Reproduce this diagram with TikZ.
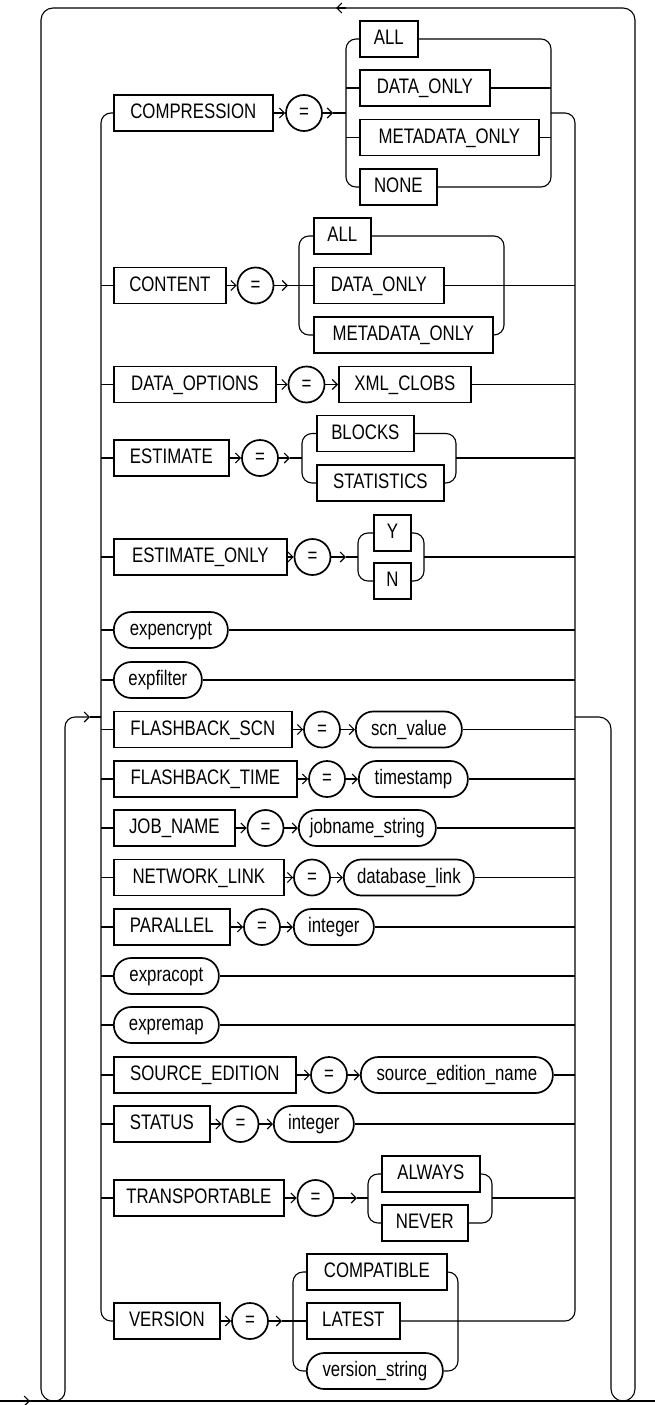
\documentclass[tikz,border=0pt]{standalone}
\usepackage{fontspec}
\newfontfamily\fnt[FakeStretch=0.8]{Liberation Sans}
\usetikzlibrary{arrows.meta,calc}
\tikzset{
  base/.style={font={\fnt\fontsize{21}{24}\selectfont}, inner sep=0pt, minimum height=36pt, text height=15pt, text depth=4pt, line width=1.7pt, anchor=west},
  kw/.style={base, draw},
  var/.style={base, draw, rounded corners=17.5pt},
  eq/.style={base, draw, circle, minimum size=36pt, anchor=center},
  ln/.style={line width=1.1pt},
  rc/.style={ln, rounded corners=10pt},
  arr/.style={ln, -{Straight Barb[length=5pt,width=10pt]}},
  arrc/.style={rc, -{Straight Barb[length=5pt,width=10pt]}},
}
\begin{document}
\begin{tikzpicture}[x=1pt,y=-1pt]
\useasboundingbox (0,0) rectangle (655,1405);
% big junctions
\coordinate (L) at (101,717);
\coordinate (Lin) at (90,717);
\coordinate (R) at (575,717);

% ---- Row 1 COMPRESSION
\node[kw, minimum width=159pt] (k1) at (113,113) {COMPRESSION};
\node[eq] (e1) at (304,113) {=};
\coordinate (a1) at (333,113);
\coordinate (c1l) at (346,113);
\coordinate (c1r) at (551,113);
\node[kw, minimum width=58pt] (o1a) at (359,39) {ALL};
\node[kw, minimum width=130pt] (o1b) at (359,88) {DATA\_ONLY};
\node[kw, minimum width=179pt] (o1c) at (359,137.5) {METADATA\_ONLY};
\node[kw, minimum width=77pt] (o1d) at (359,187) {NONE};
\draw[arr] (k1.east) -- (e1.west);
\draw[arr] (e1.east) -- (a1);
\draw[ln] (a1) -- (c1l);
\draw[rc] (c1l) |- (o1a.west);
\draw[rc] (c1l) |- (o1d.west);
\draw[ln] (c1l |- o1b.west) -- (o1b.west);
\draw[ln] (c1l |- o1c.west) -- (o1c.west);
\draw[rc] (o1a.east) -| (c1r);
\draw[rc] (o1d.east) -| (c1r);
\draw[ln] (o1b.east) -- (c1r |- o1b.east);
\draw[ln] (o1c.east) -- (c1r |- o1c.east);
\draw[rc] (c1r) -| (R);

% ---- Row 2 CONTENT
\node[kw, minimum width=112pt] (k2) at (113,285.5) {CONTENT};
\node[eq] (e2) at (255.5,285.5) {=};
\coordinate (a2) at (288,285.5);
\coordinate (c2l) at (299,285.5);
\coordinate (c2r) at (504,285.5);
\node[kw, minimum width=57pt] (o2a) at (313,236) {ALL};
\node[kw, minimum width=130pt] (o2b) at (313,285.5) {DATA\_ONLY};
\node[kw, minimum width=179pt] (o2c) at (313,335) {METADATA\_ONLY};
\draw[arr] (k2.east) -- (e2.west);
\draw[arr] (e2.east) -- (a2);
\draw[ln] (a2) -- (o2b.west);
\draw[rc] (c2l) |- (o2a.west);
\draw[rc] (c2l) |- (o2c.west);
\draw[rc] (o2a.east) -| (c2r);
\draw[rc] (o2c.east) -| (c2r);
\draw[ln] (o2b.east) -- (R |- o2b.east);

% ---- Row 3 DATA_OPTIONS
\node[kw, minimum width=162pt] (k3) at (113,384.5) {DATA\_OPTIONS};
\node[eq] (e3) at (306.5,384.5) {=};
\node[kw, minimum width=132pt] (o3) at (338,384.5) {XML\_CLOBS};
\draw[arr] (k3.east) -- (e3.west);
\draw[arr] (e3.east) -- (o3.west);
\draw[ln] (o3.east) -- (R |- o3.east);

% ---- Row 4 ESTIMATE
\node[kw, minimum width=115pt] (k4) at (113,458) {ESTIMATE};
\node[eq] (e4) at (260,458) {=};
\coordinate (a4) at (290,458);
\coordinate (c4l) at (302,458);
\coordinate (c4r) at (456,458);
\node[kw, minimum width=97pt] (o4a) at (316,433.5) {BLOCKS};
\node[kw, minimum width=127pt] (o4b) at (316,483) {STATISTICS};
\draw[arr] (k4.east) -- (e4.west);
\draw[arr] (e4.east) -- (a4);
\draw[ln] (a4) -- (c4l);
\draw[rc] (c4l) |- (o4a.west);
\draw[rc] (c4l) |- (o4b.west);
\draw[rc] (o4a.east) -| (c4r);
\draw[rc] (o4b.east) -| (c4r);
\draw[ln] (c4r) -- (R |- c4r);

% ---- Row 5 ESTIMATE_ONLY
\node[kw, minimum width=173pt] (k5) at (113,557) {ESTIMATE\_ONLY};
\node[eq] (e5) at (312.5,557) {=};
\coordinate (a5) at (346,557);
\coordinate (c5l) at (358,557);
\coordinate (c5r) at (424,557);
\node[kw, minimum width=37pt] (o5a) at (373,533) {Y};
\node[kw, minimum width=37pt] (o5b) at (373,581) {N};
\draw[arr] (k5.east) -- (e5.west);
\draw[arr] (e5.east) -- (a5);
\draw[ln] (a5) -- (c5l);
\draw[rc] (c5l) |- (o5a.west);
\draw[rc] (c5l) |- (o5b.west);
\draw[rc] (o5a.east) -| (c5r);
\draw[rc] (o5b.east) -| (c5r);
\draw[ln] (c5r) -- (R |- c5r);

% ---- Row 6, 7
\node[var, minimum width=114pt] (v6) at (113,630) {expencrypt};
\draw[ln] (v6.east) -- (R |- v6.east);
\node[var, minimum width=88pt] (v7) at (113,680) {expfilter};
\draw[ln] (v7.east) -- (R |- v7.east);

% ---- Row 8 FLASHBACK_SCN
\node[kw, minimum width=178pt] (k8) at (113,729.5) {FLASHBACK\_SCN};
\node[eq] (e8) at (322,729.5) {=};
\node[var, minimum width=106pt] (v8) at (355,729.5) {scn\_value};
\draw[arr] (k8.east) -- (e8.west);
\draw[arr] (e8.east) -- (v8.west);
\draw[ln] (v8.east) -- (R |- v8.east);

% ---- Row 9 FLASHBACK_TIME
\node[kw, minimum width=183pt] (k9) at (113,779) {FLASHBACK\_TIME};
\node[eq] (e9) at (327,779) {=};
\node[var, minimum width=109pt] (v9) at (358,779) {timestamp};
\draw[arr] (k9.east) -- (e9.west);
\draw[arr] (e9.east) -- (v9.west);
\draw[ln] (v9.east) -- (R |- v9.east);

% ---- Row 10 JOB_NAME
\node[kw, minimum width=121pt] (k10) at (113,828) {JOB\_NAME};
\node[eq] (e10) at (265.5,828) {=};
\node[var, minimum width=137pt] (v10) at (298,828) {jobname\_string};
\draw[arr] (k10.east) -- (e10.west);
\draw[arr] (e10.east) -- (v10.west);
\draw[ln] (v10.east) -- (R |- v10.east);

% ---- Row 11 NETWORK_LINK
\node[kw, minimum width=170pt] (k11) at (113,877.5) {NETWORK\_LINK};
\node[eq] (e11) at (312,877.5) {=};
\node[var, minimum width=130pt] (v11) at (343,877.5) {database\_link};
\draw[arr] (k11.east) -- (e11.west);
\draw[arr] (e11.east) -- (v11.west);
\draw[ln] (v11.east) -- (R |- v11.east);

% ---- Row 12 PARALLEL
\node[kw, minimum width=116pt] (k12) at (113,927) {PARALLEL};
\node[eq] (e12) at (262,927) {=};
\node[var, minimum width=80pt] (v12) at (293,927) {integer};
\draw[arr] (k12.east) -- (e12.west);
\draw[arr] (e12.east) -- (v12.west);
\draw[ln] (v12.east) -- (R |- v12.east);

% ---- Row 13, 14
\node[var, minimum width=105pt] (v13) at (113,976) {expracopt};
\draw[ln] (v13.east) -- (R |- v13.east);
\node[var, minimum width=105pt] (v14) at (113,1025) {expremap};
\draw[ln] (v14.east) -- (R |- v14.east);

% ---- Row 15 SOURCE_EDITION
\node[kw, minimum width=182pt] (k15) at (113,1075) {SOURCE\_EDITION};
\node[eq] (e15) at (329,1075) {=};
\node[var, minimum width=192pt] (v15) at (360,1075) {source\_edition\_name};
\draw[arr] (k15.east) -- (e15.west);
\draw[arr] (e15.east) -- (v15.west);
\draw[ln] (v15.east) -- (R |- v15.east);

% ---- Row 16 STATUS
\node[kw, minimum width=96pt] (k16) at (113,1124) {STATUS};
\node[eq] (e16) at (240.5,1124) {=};
\node[var, minimum width=80pt] (v16) at (273,1124) {integer};
\draw[arr] (k16.east) -- (e16.west);
\draw[arr] (e16.east) -- (v16.west);
\draw[ln] (v16.east) -- (R |- v16.east);

% ---- Row 17 TRANSPORTABLE
\node[kw, minimum width=170pt] (k17) at (113,1198) {TRANSPORTABLE};
\node[eq] (e17) at (315.5,1198) {=};
\coordinate (a17) at (357,1198);
\coordinate (c17l) at (368,1198);
\coordinate (c17r) at (492,1198);
\node[kw, minimum width=98pt] (o17a) at (381,1174) {ALWAYS};
\node[kw, minimum width=86pt] (o17b) at (381,1223) {NEVER};
\draw[arr] (k17.east) -- (e17.west);
\draw[arr] (e17.east) -- (a17);
\draw[ln] (a17) -- (c17l);
\draw[rc] (c17l) |- (o17a.west);
\draw[rc] (c17l) |- (o17b.west);
\draw[rc] (o17a.east) -| (c17r);
\draw[rc] (o17b.east) -| (c17r);
\draw[ln] (c17r) -- (R |- c17r);

% ---- Row 18 VERSION
\node[kw, minimum width=106pt] (k18) at (113,1321) {VERSION};
\node[eq] (e18) at (250,1321) {=};
\coordinate (a18) at (282,1321);
\coordinate (c18l) at (293,1321);
\coordinate (c18r) at (458,1321);
\node[kw, minimum width=140pt] (o18a) at (306,1272) {COMPATIBLE};
\node[kw, minimum width=93pt] (o18b) at (306,1321) {LATEST};
\node[var, minimum width=136pt] (o18c) at (306,1371) {version\_string};
\draw[arr] (k18.east) -- (e18.west);
\draw[arr] (e18.east) -- (a18);
\draw[ln] (a18) -- (o18b.west);
\draw[rc] (c18l) |- (o18a.west);
\draw[rc] (c18l) |- (o18c.west);
\draw[rc] (o18a.east) -| (c18r);
\draw[rc] (o18c.east) -| (c18r);
\draw[rc] (o18b.east) -| (R);

% ---- big left vertical
\draw[rc] (L) |- (k1.west);
\draw[rc] (L) |- (k18.west);
\foreach \n in {k2,k3,k4,k5,v6,v7,k8,k9,k10,k11,k12,v13,v14,k15,k16,k17}
  \draw[ln] (L |- \n.west) -- (\n.west);

% ---- loops and main line
\coordinate (ML) at (0,1401);
\coordinate (MR) at (655,1401);
\coordinate (UL) at (53,1401);
\coordinate (UR) at (623,1401);
\coordinate (TA) at (336,8);
\draw[ln] (ML) -- (MR);
\draw[arr] ($(ML)+(18,0)$) -- ($(ML)+(30,0)$);
\draw[ln, rounded corners=12pt] (UL) -| (41,8) -| (635,1401) -- (UR);
\draw[arr] ($(TA)+(10,0)$) -- (TA);
\draw[arrc] (UL) -| (65,717) -- (Lin);
\draw[ln] (Lin) -- (L);
\draw[ln, rounded corners=12pt] (R) -| (611,1401) -- (UR);
\end{tikzpicture}
\end{document}
